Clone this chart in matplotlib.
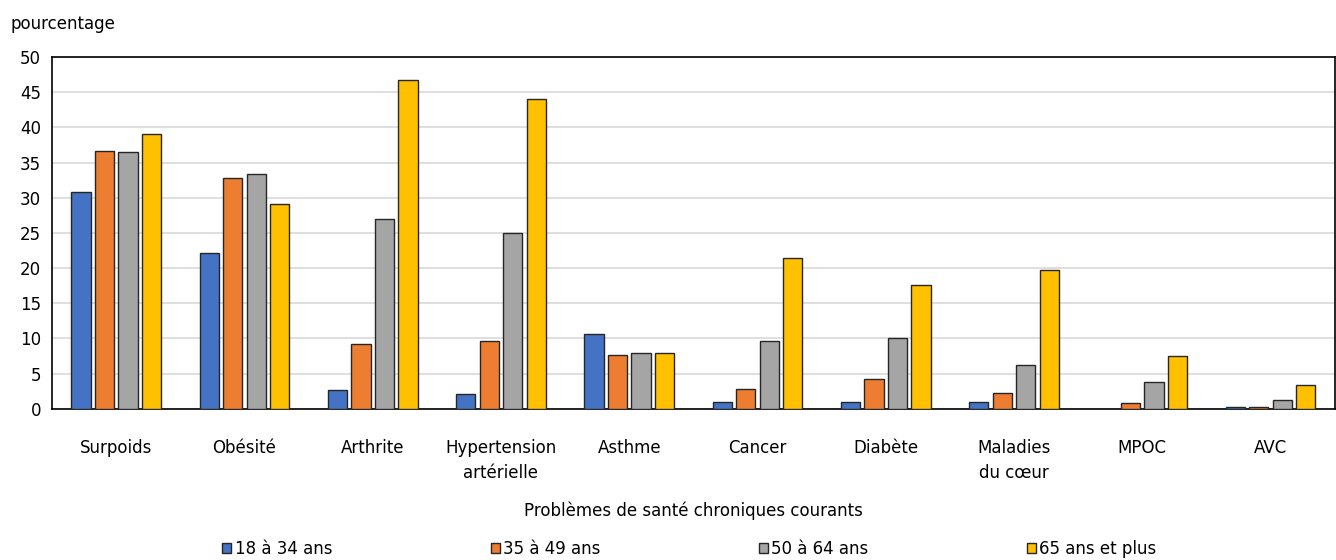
import numpy as np
import matplotlib.pyplot as plt

# Categories and values (percentage)
conditions = ['Surpoids', 'Obésité', 'Arthrite', 'Hypertension\nartérielle', 'Asthme',
              'Cancer', 'Diabète', 'Maladies\ndu cœur', 'MPOC', 'AVC']
age_groups = ['18 à 34 ans', '35 à 49 ans', '50 à 64 ans', '65 ans et plus']

age_18_34 = [30.8, 22.2, 2.7, 2.1, 10.6, 0.9, 1.0, 1.0, np.nan, 0.2]
age_35_49 = [36.6, 32.8, 9.2, 9.6, 7.6, 2.8, 4.3, 2.3, 0.8, 0.3]
age_50_64 = [36.5, 33.4, 27.0, 25.0, 7.9, 9.6, 10.1, 6.2, 3.8, 1.2]
age_65_plus = [39.1, 29.1, 46.7, 44.1, 8.0, 21.4, 17.6, 19.8, 7.5, 3.4]

colors = ['#4472C4', '#ED7D31', '#A5A5A5', '#FFC000']

plt.rcParams['font.family'] = ['Liberation Sans Narrow', 'DejaVu Sans']
plt.rcParams['font.size'] = 12

fig = plt.figure(figsize=(13.36, 5.6), dpi=100)
ax = fig.add_axes([0.039, 0.27, 0.96, 0.628])

x = np.arange(len(conditions))
width = 0.15
pitch = 0.183
series = [age_18_34, age_35_49, age_50_64, age_65_plus]
for i, (vals, col, lab) in enumerate(zip(series, colors, age_groups)):
    ax.bar(x + (i - 1.5) * pitch, vals, width, color=col, edgecolor='#262626',
           linewidth=1.0, label=lab, zorder=3)

ax.set_xlim(-0.5, len(conditions) - 0.5)
ax.set_ylim(0, 50)
ax.set_yticks(range(0, 51, 5))
ax.set_xticks(x)
ax.set_xticklabels(conditions, fontsize=12, linespacing=1.5)
ax.tick_params(axis='both', length=0, labelsize=12)
ax.tick_params(axis='x', pad=22)
ax.tick_params(axis='y', pad=8)
ax.yaxis.grid(True, color='#d9d9d9', linewidth=1.2, zorder=0)
for s in ax.spines.values():
    s.set_color('black')
    s.set_linewidth(1.2)

ax.set_xlabel('Problèmes de santé chroniques courants', fontsize=12, labelpad=14)
fig.text(0.008, 0.958, 'pourcentage', fontsize=12, va='center', ha='left')

leg = fig.legend(loc='center', bbox_to_anchor=(0.516, 0.02), ncol=4, frameon=False,
                 fontsize=12, handlelength=0.55, handleheight=0.55, handletextpad=0.2,
                 columnspacing=9.5)

fig.savefig('out.png', dpi=100)
